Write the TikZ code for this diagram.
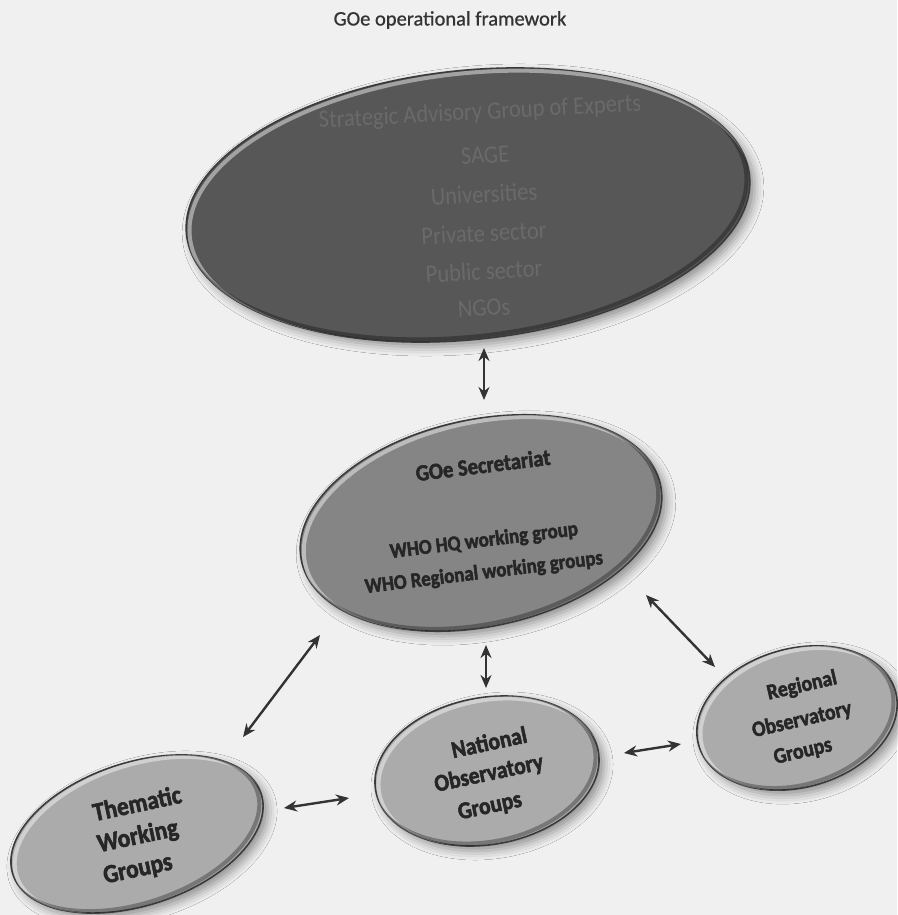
\documentclass[tikz,border=0pt]{standalone}
\usepackage{fontspec}
\setmainfont{Carlito}
\newfontfamily\heavyfont{Carlito}[BoldFeatures={FakeBold=2.2}, FakeStretch=0.9]
\newfontfamily\condfont{Carlito}[FakeStretch=0.9]
\newfontfamily\titlefont{Carlito}[FakeBold=0.8]
\usetikzlibrary{shapes.geometric,arrows.meta,shadows.blur}
\definecolor{bg}{HTML}{F0F0F0}
\definecolor{edge}{HTML}{3A3A3A}
\definecolor{sagefill}{HTML}{575757}
\definecolor{secfill}{HTML}{858585}
\definecolor{smallfill}{HTML}{ABABAB}
\definecolor{txt}{HTML}{262626}
\definecolor{sagetxt}{HTML}{6A6A6A}
\definecolor{arrowc}{HTML}{333333}
\newcommand\ovalrim[4]{%
  \begin{scope}[shift={#1}, rotate=#4]
    \clip (0,0) ellipse ({#2} and {#3});
    \draw[white, opacity=.45, line width=4pt] (3,3) ellipse ({#2} and {#3});
    \draw[black, opacity=.30, line width=4pt] (-3,-3) ellipse ({#2} and {#3});
  \end{scope}}
\begin{document}
\begin{tikzpicture}[x=1pt,y=-1pt,
  oval/.style={ellipse, draw=edge, line width=1.6pt, inner sep=0pt,
    blur shadow={shadow xshift=5pt, shadow yshift=-5pt, shadow blur radius=9pt, shadow opacity=40}},
  conn/.style={{Stealth[length=13pt,width=11pt]}-{Stealth[length=13pt,width=11pt]}, line width=2.4pt, draw=arrowc},
  lbl/.style={text=txt, inner sep=0pt},
  sagelbl/.style={font=\condfont\fontsize{25}{30}\selectfont, text=sagetxt, inner sep=0pt, rotate=3},
  seclbl/.style={lbl, rotate=7, font=\heavyfont\bfseries\fontsize{21}{24}\selectfont},
  themlbl/.style={lbl, rotate=12, font=\heavyfont\bfseries\fontsize{26}{30}\selectfont},
  natlbl/.style={lbl, rotate=12, font=\heavyfont\bfseries\fontsize{24}{30}\selectfont},
  reglbl/.style={lbl, rotate=13, font=\heavyfont\bfseries\fontsize{22}{30}\selectfont},
  ttl/.style={font=\titlefont\fontsize{20.5}{24}\selectfont, text=black!80, inner sep=0pt}
]
\useasboundingbox (0,0) rectangle (897,915);
\fill[bg] (0,0) rectangle (897,915);

\node[ttl] (title) at (450,20) {GOe operational framework};

% ellipses
\node[oval, fill=sagefill, minimum width=566pt, minimum height=269pt, rotate=6] (sage) at (468,205) {};
\node[oval, fill=secfill, minimum width=367pt, minimum height=207pt, rotate=12] (sec) at (481,523) {};
\node[oval, fill=smallfill, minimum width=261pt, minimum height=143pt, rotate=18] (them) at (137,834) {};
\node[oval, fill=smallfill, minimum width=226pt, minimum height=147pt, rotate=10] (nat) at (487,771) {};
\node[oval, fill=smallfill, minimum width=204pt, minimum height=139pt, rotate=15] (reg) at (797,718) {};

\ovalrim{(468,205)}{283}{134.5}{6}
\ovalrim{(481,523)}{183.5}{103.5}{12}
\ovalrim{(137,834)}{130.5}{71.5}{18}
\ovalrim{(487,771)}{113}{73.5}{10}
\ovalrim{(797,718)}{102}{69.5}{15}

% SAGE text
\node[sagelbl] (s1) at (480,113) {Strategic Advisory Group of Experts};
\node[sagelbl] (s2) at (485,155) {SAGE};
\node[sagelbl] (s3) at (484,194) {Universities};
\node[sagelbl] (s4) at (484,233) {Private sector};
\node[sagelbl] (s5) at (484,271) {Public sector};
\node[sagelbl] (s6) at (484,308) {NGOs};

% Secretariat text
\node[seclbl, font=\heavyfont\bfseries\fontsize{23}{28}\selectfont] (c1) at (483,465) {GOe Secretariat};
\node[seclbl] (c2) at (484,541) {WHO HQ working group};
\node[seclbl] (c3) at (484,573) {WHO Regional working groups};

% Thematic
\node[themlbl] (t1) at (137,803) {Thematic};
\node[themlbl] (t2) at (138,837) {Working};
\node[themlbl] (t3) at (138,870) {Groups};

% National
\node[natlbl] (n1) at (489,742) {National};
\node[natlbl] (n2) at (489,774) {Observatory};
\node[natlbl] (n3) at (490,807) {Groups};

% Regional
\node[reglbl] (r1) at (802,686) {Regional};
\node[reglbl] (r2) at (802,720) {Observatory};
\node[reglbl] (r3) at (803,752) {Groups};

% connectors
\draw[conn] ([shift={(16,143)}]sage.center) -- ([shift={(3,-123)}]sec.center);
\draw[conn] ([shift={(5,122)}]sec.center) -- ([shift={(-1,-83)}]nat.center);
\draw[conn] ([shift={(-161,112)}]sec.center) -- ([shift={(106,-97)}]them.center);
\draw[conn] ([shift={(165,72)}]sec.center) -- ([shift={(-82,-51)}]reg.center);
\draw[conn] ([shift={(147,-26)}]them.center) -- ([shift={(-138,27)}]nat.center);
\draw[conn] ([shift={(137,-18)}]nat.center) -- ([shift={(-116,26)}]reg.center);
\end{tikzpicture}
\end{document}
